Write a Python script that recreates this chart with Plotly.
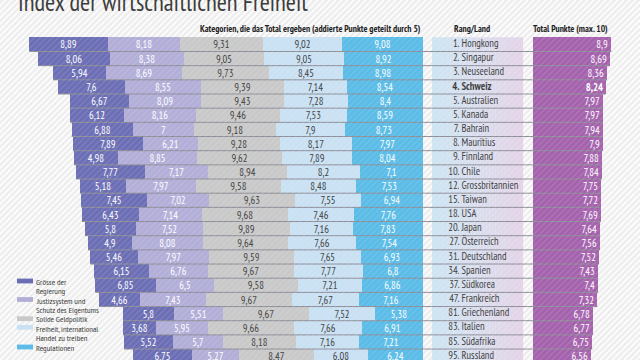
import plotly.graph_objects as go

# ---------------- data ----------------
ranks = [1, 2, 3, 4, 5, 5, 7, 8, 9, 10, 12, 15, 18, 20, 27, 31, 34, 37, 47, 81, 83, 85, 95]
countries = ["Hongkong", "Singapur", "Neuseeland", "Schweiz", "Australien", "Kanada", "Bahrain",
             "Mauritius", "Finnland", "Chile", "Grossbritannien", "Taiwan", "USA", "Japan",
             "Österreich", "Deutschland", "Spanien", "Südkorea", "Frankreich", "Griechenland",
             "Italien", "Südafrika", "Russland"]
regierung = [8.89, 8.06, 5.94, 7.6, 6.67, 6.12, 6.88, 7.89, 4.98, 7.77, 5.18, 7.45, 6.43, 5.8,
             4.9, 5.46, 6.15, 6.85, 4.66, 5.8, 3.68, 5.52, 6.75]
justiz = [8.18, 8.38, 8.69, 8.55, 8.09, 8.16, 7, 6.21, 8.85, 7.17, 7.97, 7.02, 7.14, 7.52,
          8.08, 7.97, 6.76, 6.5, 7.43, 5.51, 5.95, 5.7, 5.27]
geld = [9.31, 9.05, 9.73, 9.39, 9.43, 9.46, 9.18, 9.28, 9.62, 8.94, 9.58, 9.63, 9.68, 9.89,
        9.64, 9.59, 9.67, 9.58, 9.67, 9.67, 9.66, 8.18, 8.47]
handel = [9.02, 9.05, 8.45, 7.14, 7.28, 7.53, 7.9, 8.17, 7.89, 8.2, 8.48, 7.55, 7.46, 7.16,
          7.66, 7.65, 7.77, 7.21, 7.67, 7.52, 7.66, 7.16, 6.08]
regulationen = [9.08, 8.92, 8.98, 8.54, 8.4, 8.59, 8.73, 7.97, 8.04, 7.1, 7.53, 6.94, 7.76, 7.83,
                7.54, 6.93, 6.8, 6.86, 7.16, 5.38, 6.91, 7.21, 6.24]
total = [8.9, 8.69, 8.36, 8.24, 7.97, 7.97, 7.94, 7.9, 7.88, 7.84, 7.75, 7.72, 7.69, 7.64,
         7.56, 7.52, 7.43, 7.4, 7.32, 6.78, 6.77, 6.75, 6.56]
highlight = "Schweiz"

legend_lines = [["Grösse der", "Regierung"], ["Justizsystem und", "Schutz des Eigentums"],
                ["Solide Geldpolitik"], ["Freiheit, international", "Handel zu treiben"],
                ["Regulationen"]]

# ---------------- style ----------------
FONT = "PT Sans Narrow, Roboto Condensed, sans-serif"
C_REG = "#6b6eb4"
C_JUS = "#b2aed8"
C_GELD = "#c9c9c9"
C_HAN = "#c9e1f3"
C_REGU = "#5abce7"
C_TOT = "#a462ad"
DARK = "#3a3a3a"
BG = "#eeeeee"

W, H = 640, 360
ZERO_PX = 422.7      # right edge of the category stack
TOT_PX = 532.7       # left edge of the total bars
PXU = 8.845          # pixels per unit
X0 = -ZERO_PX / PXU
X1 = (W - ZERO_PX) / PXU
TOT_BASE = (TOT_PX - ZERO_PX) / PXU
ROW_PX = 14.17
ROW0_PX = 44.4
Y_TOP = -ROW0_PX / ROW_PX
Y_BOT = (H - ROW0_PX) / ROW_PX

n = len(countries)
yy = list(range(n))


def fmt(v):
    return f"{v:g}".replace(".", ",")


fig = go.Figure()

series = [
    (regulationen, C_REGU, "white"),
    (handel, C_HAN, DARK),
    (geld, C_GELD, DARK),
    (justiz, C_JUS, "white"),
    (regierung, C_REG, "white"),
]
for vals, col, tcol in series:
    fig.add_trace(go.Bar(
        y=yy, x=[-v for v in vals], orientation="h",
        marker=dict(color=col, line=dict(width=0)),
        text=[fmt(v) for v in vals], textposition="inside", insidetextanchor="middle",
        textangle=0, constraintext="none",
        textfont=dict(family=FONT, size=10.5, color=tcol),
        width=1.0, showlegend=False, hoverinfo="skip",
    ))

# totals
fig.add_trace(go.Bar(
    y=yy, x=total, base=TOT_BASE, orientation="h",
    marker=dict(color=C_TOT, line=dict(width=0)),
    text=[("<b>%s</b>" % fmt(t)) if c == highlight else fmt(t) for t, c in zip(total, countries)],
    textposition="inside", insidetextanchor="end", textangle=0, constraintext="none",
    textfont=dict(family=FONT, size=10.5, color="white"),
    width=1.0, showlegend=False, hoverinfo="skip",
))

# row separator lines
sums = [a + b + c + d + e for a, b, c, d, e in zip(regierung, justiz, geld, handel, regulationen)]
lx, ly = [], []
for i in range(n):
    lx += [-sums[i], TOT_BASE + total[i], None]
    ly += [i + 0.5, i + 0.5, None]
fig.add_trace(go.Scatter(x=lx, y=ly, mode="lines", line=dict(color="#8e8e98", width=1),
                         showlegend=False, hoverinfo="skip"))

# rank / country labels
fig.add_trace(go.Scatter(
    x=[(459.5 - ZERO_PX) / PXU] * n, y=yy, mode="text",
    text=[("<b>%d.</b>" % r) if c == highlight else "%d." % r for r, c in zip(ranks, countries)],
    textposition="middle left", textfont=dict(family=FONT, size=10.5, color=DARK),
    showlegend=False, hoverinfo="skip"))
fig.add_trace(go.Scatter(
    x=[(461.5 - ZERO_PX) / PXU] * n, y=yy, mode="text",
    text=[("<b>%s</b>" % c) if c == highlight else c for c in countries],
    textposition="middle right", textfont=dict(family=FONT, size=10.5, color=DARK),
    showlegend=False, hoverinfo="skip"))

shapes = []
# background stripes (and a faint texture over everything)
step = 6
x = -H
while x < W:
    shapes.append(dict(type="line", xref="paper", yref="paper",
                       x0=x / W, y0=0, x1=(x + H) / W, y1=1,
                       line=dict(color="rgba(255,255,255,0.9)", width=1.6), layer="below"))
    shapes.append(dict(type="line", xref="paper", yref="paper",
                       x0=x / W, y0=0, x1=(x + H) / W, y1=1,
                       line=dict(color="rgba(255,255,255,0.10)", width=1.6), layer="above"))
    x += step

# rank band gradient
c1 = (205, 229, 243)
c2 = (228, 212, 232)
bx0 = (432 - ZERO_PX) / PXU
bx1 = (523 - ZERO_PX) / PXU
ns = 30
for k in range(ns):
    t = (k + 0.5) / ns
    col = tuple(round(c1[j] + (c2[j] - c1[j]) * t) for j in range(3))
    shapes.append(dict(type="rect", xref="x", yref="y",
                       x0=bx0 + (bx1 - bx0) * k / ns, x1=bx0 + (bx1 - bx0) * (k + 1) / ns + 0.01,
                       y0=-0.5, y1=n - 0.5,
                       fillcolor="rgb(%d,%d,%d)" % col, line=dict(width=0), layer="below"))

# legend
leg_cols = [C_REG, C_JUS, C_GELD, C_HAN, C_REGU]
leg_sw_y = [281, 299.5, 318.7, 327.3, 347]
leg_txt_y = [[281.7, 290.2], [300, 309], [318.7], [328.7, 337.3], [347]]
annotations = []
for col, sy, tys, lines in zip(leg_cols, leg_sw_y, leg_txt_y, legend_lines):
    shapes.append(dict(type="rect", xref="paper", yref="paper",
                       x0=17 / W, x1=33 / W, y0=1 - (sy + 2.4) / H, y1=1 - (sy - 2.4) / H,
                       fillcolor=col, line=dict(width=0)))
    for ty, ln in zip(tys, lines):
        annotations.append(dict(xref="paper", yref="paper", x=34.5 / W, y=1 - ty / H,
                                xanchor="left", yanchor="middle", align="left", showarrow=False,
                                borderpad=0,
                                text=ln, font=dict(family=FONT, size=8.4, color=DARK)))

# title and headers
annotations.append(dict(xref="paper", yref="paper", x=16 / W, y=1 - 20.4 / H, xanchor="left",
                        yanchor="bottom", showarrow=False,
                        text="Index der wirtschaftlichen Freiheit",
                        font=dict(family=FONT, size=24.5, color="#3d3d3d")))
annotations.append(dict(xref="paper", yref="paper", x=423 / W, y=1 - 29 / H, xanchor="right",
                        yanchor="middle", showarrow=False,
                        text="<b>Kategorien, die das Total ergeben (addierte Punkte geteilt durch 5)</b>",
                        font=dict(family=FONT, size=9.3, color="#222")))
annotations.append(dict(xref="paper", yref="paper", x=472 / W, y=1 - 29 / H, xanchor="center",
                        yanchor="middle", showarrow=False, text="<b>Rang/Land</b>",
                        font=dict(family=FONT, size=9.3, color="#222")))
annotations.append(dict(xref="paper", yref="paper", x=531 / W, y=1 - 29 / H, xanchor="left",
                        yanchor="middle", showarrow=False, text="<b>Total Punkte (max. 10)</b>",
                        font=dict(family=FONT, size=9.3, color="#222")))

fig.update_layout(
    width=W, height=H, margin=dict(l=0, r=0, t=0, b=0),
    paper_bgcolor=BG, plot_bgcolor="rgba(0,0,0,0)",
    barmode="relative", bargap=0,
    xaxis=dict(range=[X0, X1], domain=[0, 1], visible=False, fixedrange=True),
    yaxis=dict(range=[Y_BOT, Y_TOP], domain=[0, 1], visible=False, fixedrange=True),
    shapes=shapes, annotations=annotations, showlegend=False,
)

fig.write_html(
    "out.html",
    config={"displayModeBar": False},
    post_script="document.body.style.margin='0';document.body.style.padding='0';"
                "document.body.style.overflow='hidden';",
)
